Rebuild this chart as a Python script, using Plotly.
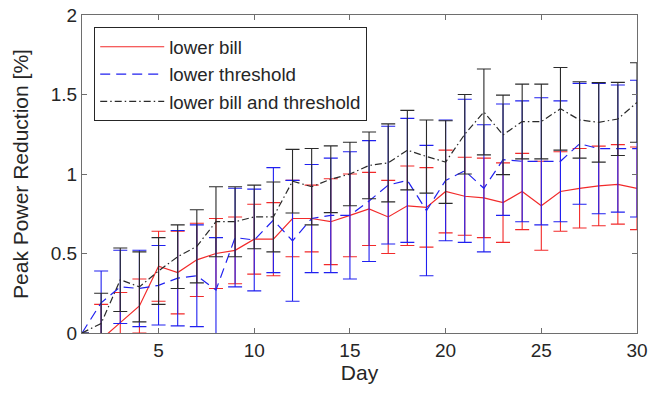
import plotly.graph_objects as go

days = list(range(1, 31))

bill_mean = [-0.10, -0.04, 0.065, 0.17, 0.42, 0.38, 0.46, 0.50, 0.52, 0.59,
             0.59, 0.72, 0.72, 0.70, 0.74, 0.78, 0.73, 0.80, 0.79, 0.89,
             0.86, 0.85, 0.82, 0.89, 0.80, 0.89, 0.91, 0.925, 0.935, 0.91]
bill_err = [0.0, 0.22, 0.19, 0.17, 0.22, 0.26, 0.23, 0.22, 0.21, 0.22,
            0.23, 0.24, 0.21, 0.27, 0.26, 0.23, 0.23, 0.25, 0.25, 0.26,
            0.245, 0.25, 0.25, 0.24, 0.28, 0.25, 0.25, 0.25, 0.25, 0.26]

thr_mean = [0.0, 0.19, 0.29, 0.28, 0.30, 0.345, 0.36, 0.27, 0.60, 0.585,
            0.71, 0.58, 0.72, 0.74, 0.74, 0.83, 0.93, 0.96, 0.77, 0.96,
            1.02, 0.91, 1.09, 1.08, 1.08, 1.08, 1.19, 1.16, 1.16, 1.16]
thr_err = [0.0, 0.20, 0.23, 0.24, 0.25, 0.30, 0.32, 0.33, 0.31, 0.32,
           0.33, 0.38, 0.34, 0.36, 0.40, 0.38, 0.37, 0.39, 0.41, 0.38,
           0.45, 0.40, 0.35, 0.38, 0.40, 0.38, 0.38, 0.41, 0.40, 0.43]

both_mean = [0.0, 0.06, 0.335, 0.29, 0.39, 0.48, 0.545, 0.70, 0.70, 0.73,
             0.73, 0.955, 0.92, 0.967, 1.0, 1.054, 1.07, 1.15, 1.11, 1.075,
             1.25, 1.39, 1.246, 1.33, 1.33, 1.41, 1.34, 1.325, 1.346, 1.45]
both_err = [0.0, 0.19, 0.20, 0.22, 0.21, 0.20, 0.23, 0.22, 0.22, 0.20,
            0.22, 0.20, 0.24, 0.21, 0.20, 0.21, 0.245, 0.25, 0.23, 0.26,
            0.25, 0.27, 0.25, 0.235, 0.235, 0.26, 0.24, 0.25, 0.23, 0.25]

series_names = ["lower bill", "lower threshold", "lower bill and threshold"]

RED = "#f22a2a"
BLUE = "#2020f0"
BLACK = "#2a2a2a"

fig = go.Figure()
fig.add_trace(go.Scatter(
    x=days, y=bill_mean, mode="lines", name=series_names[0],
    line=dict(color=RED, width=1.2),
    error_y=dict(type="data", array=bill_err, visible=True, color=RED,
                 thickness=1.1, width=7)))
fig.add_trace(go.Scatter(
    x=days, y=thr_mean, mode="lines", name=series_names[1],
    line=dict(color=BLUE, width=1.2, dash="10px,6px"),
    error_y=dict(type="data", array=thr_err, visible=True, color=BLUE,
                 thickness=1.1, width=7)))
fig.add_trace(go.Scatter(
    x=days, y=both_mean, mode="lines", name=series_names[2],
    line=dict(color=BLACK, width=1.2, dash="7px,3px,1.5px,3px"),
    error_y=dict(type="data", array=both_err, visible=True, color=BLACK,
                 thickness=1.1, width=7)))

axis_common = dict(showline=True, linecolor="#6e6e6e", linewidth=1.2, mirror="ticks",
                   ticks="inside", ticklen=5, tickcolor="#6e6e6e", showgrid=False,
                   zeroline=False, automargin=False,
                   tickfont=dict(size=19, color="#262626"))

fig.update_xaxes(range=[1, 30], tickvals=[5, 10, 15, 20, 25, 30],
                 title=dict(text="Day", font=dict(size=21, color="#262626"), standoff=4),
                 **axis_common)
fig.update_yaxes(range=[0, 2], tickvals=[0, 0.5, 1, 1.5, 2],
                 ticktext=["0", "0.5", "1", "1.5", "2"],
                 title=dict(text="Peak Power Reduction [%]", font=dict(size=21, color="#262626"), standoff=16),
                 **axis_common)

fig.update_layout(
    width=660, height=400,
    margin=dict(l=82, r=23, t=15, b=67),
    paper_bgcolor="white", plot_bgcolor="white",
    font=dict(family="Liberation Sans, Arial, sans-serif", color="#262626"),
    legend=dict(x=0.022, y=0.962, xanchor="left", yanchor="top",
                bgcolor="white", bordercolor="#262626", borderwidth=1,
                font=dict(size=18.7, color="#262626"), itemwidth=64,
                tracegroupgap=0),
)

fig.write_html("out.html", config={"displayModeBar": False},
               post_script="document.body.style.margin='0px';")
